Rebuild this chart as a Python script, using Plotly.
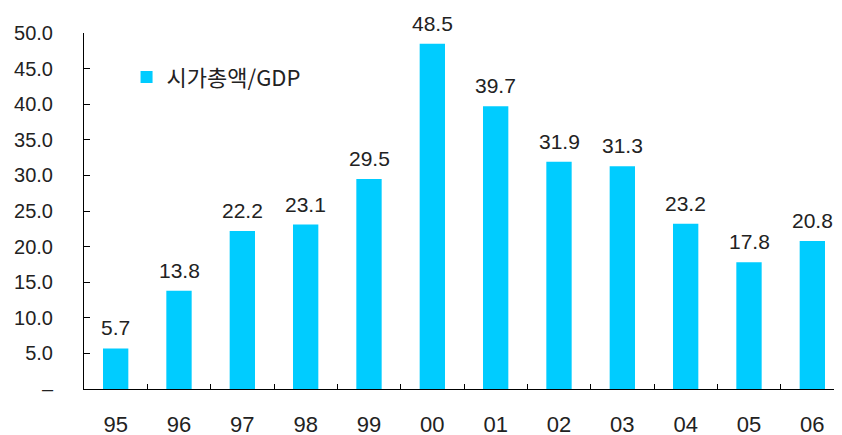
import plotly.graph_objects as go

categories = ["95", "96", "97", "98", "99", "00", "01", "02", "03", "04", "05", "06"]
values = [5.7, 13.8, 22.2, 23.1, 29.5, 48.5, 39.7, 31.9, 31.3, 23.2, 17.8, 20.8]
series_name = "시가총액/GDP"
y_tickvals = [0, 5, 10, 15, 20, 25, 30, 35, 40, 45, 50]
y_ticktext = ["–", "5.0", "10.0", "15.0", "20.0", "25.0", "30.0", "35.0", "40.0", "45.0", "50.0"]

FONT = "Liberation Sans, Arial, Noto Sans CJK KR, sans-serif"
TXT = "#222222"

fig = go.Figure()
fig.add_trace(go.Bar(
    x=categories, y=values, name=series_name,
    marker=dict(color="#00CCFF", line=dict(width=0)),
    width=0.4, showlegend=True,
))

for i, v in enumerate(values):
    fig.add_annotation(x=i, y=v, text=f"{v:.1f}", showarrow=False,
                       xref="x", yref="y",
                       yanchor="bottom", yshift=7,
                       font=dict(family=FONT, size=21, color=TXT))

fig.update_layout(
    width=842, height=435,
    margin=dict(l=74, r=6, t=25, b=53),
    paper_bgcolor="white", plot_bgcolor="white",
    font=dict(family=FONT, size=20, color=TXT),
    showlegend=True,
    legend=dict(x=0.056, y=0.876, xanchor="left", yanchor="middle",
                bgcolor="rgba(0,0,0,0)",
                font=dict(family="Noto Sans CJK KR, Liberation Sans, sans-serif", size=22, color=TXT),
                itemwidth=30),
    xaxis=dict(type="category", range=[-0.5, 11.5], showline=True, linecolor="black", linewidth=1,
               ticks="inside", tickson="boundaries", ticklen=5, tickcolor="black",
               showgrid=False, zeroline=False, ticklabelstandoff=16,
               tickfont=dict(family=FONT, size=22, color=TXT)),
    yaxis=dict(range=[0, 50], showline=True, linecolor="black", linewidth=1,
               ticks="inside", ticklen=6, tickcolor="black",
               tickvals=y_tickvals, ticktext=y_ticktext,
               showgrid=False, zeroline=False, ticklabelstandoff=26,
               tickfont=dict(family=FONT, size=20, color=TXT)),
)

fig.write_html("out.html")
